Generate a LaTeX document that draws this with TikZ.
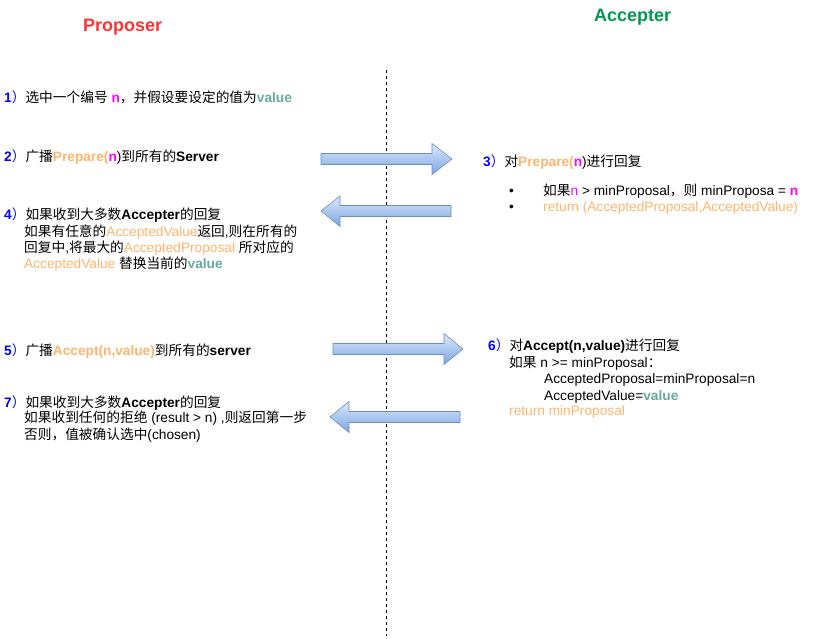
\documentclass[tikz,border=0pt]{standalone}
\usepackage{fontspec}
\setmainfont{Liberation Sans}
\newfontfamily\cjkf{Noto Sans CJK SC}
\definecolor{numblue}{HTML}{0000FF}
\definecolor{magc}{HTML}{FF00FF}
\definecolor{orgc}{HTML}{FFB570}
\definecolor{valc}{HTML}{67AB9F}
\definecolor{propc}{HTML}{FF3333}
\definecolor{accc}{HTML}{00994D}
\definecolor{arrtop}{HTML}{DAE8FC}
\definecolor{arrbot}{HTML}{7EA6E0}
\definecolor{arrdraw}{HTML}{6C8EBF}
\newcommand\zh[1]{{\cjkf #1}}
\newcommand\stepnum[1]{{\color{numblue}\textbf{#1}\zh{）}}}
\newcommand\nn{{\color{magc}\textbf{n}}}
\newcommand\org[1]{{\color{orgc}#1}}
\newcommand\val{{\color{valc}\textbf{value}}}
\tikzset{
  txt/.style={anchor=base west, inner sep=0pt, font=\fontsize{13.7}{16}\selectfont},
  title/.style={anchor=base west, inner sep=0pt, font=\fontsize{18}{20}\selectfont\bfseries},
  blockarrow/.style={top color=arrtop, bottom color=arrbot, draw=arrdraw, line width=0.6pt, line join=miter},
  lifeline/.style={draw=black, line width=0.7pt, dash pattern=on 3pt off 3pt}
}
\begin{document}
\begin{tikzpicture}[x=1pt,y=-1pt]
\useasboundingbox[fill=white] (0,0) rectangle (823,639);
% titles
\node[title, text=propc] (tprop) at (83,31.5) {Proposer};
\node[title, text=accc] (tacc) at (594,21.5) {Accepter};
% lifeline
\coordinate (ltop) at (386,70);
\coordinate (lbot) at (386,636);
\draw[lifeline] (ltop) -- (lbot);
% block arrows
\path[blockarrow] (321,153.5) -- (432,153.5) -- (432,143.5) -- (452,159) -- (432,174.5) -- (432,164.5) -- (321,164.5) -- cycle;
\path[blockarrow] (451,205.5) -- (340,205.5) -- (340,196) -- (321,211) -- (340,226.5) -- (340,216.5) -- (451,216.5) -- cycle;
\path[blockarrow] (333,343.5) -- (444,343.5) -- (444,333.5) -- (463,349) -- (444,364.5) -- (444,354.5) -- (333,354.5) -- cycle;
\path[blockarrow] (460,411.5) -- (349,411.5) -- (349,401.5) -- (330,417) -- (349,432.5) -- (349,422.5) -- (460,422.5) -- cycle;
% proposer side
\node[txt] (s1) at (4,103) {\stepnum{1}\zh{选中一个编号} \nn\zh{，并假设要设定的值为}\val};
\node[txt] (s2) at (4,162) {\stepnum{2}\zh{广播}\org{\textbf{Prepare(}}\nn)\zh{到所有的}\textbf{Server}};
\node[txt] (s4a) at (4,220) {\stepnum{4}\zh{如果收到大多数}\textbf{Accepter}\zh{的回复}};
\node[txt] (s4b) at (24,236.5) {\zh{如果有任意的}\org{AcceptedValue}\zh{返回},\zh{则在所有的}};
\node[txt] (s4c) at (24,252.5) {\zh{回复中},\zh{将最大的}\org{AcceptedProposal} \zh{所对应的}};
\node[txt] (s4d) at (24,268.5) {\org{AcceptedValue} \zh{替换当前的}\val};
\node[txt] (s5) at (4,356) {\stepnum{5}\zh{广播}\org{\textbf{Accept(n,value)}}\zh{到所有的}\textbf{server}};
\node[txt] (s7a) at (4,407) {\stepnum{7}\zh{如果收到大多数}\textbf{Accepter}\zh{的回复}};
\node[txt] (s7b) at (24,423) {\zh{如果收到任何的拒绝} (result > n) ,\zh{则返回第一步}};
\node[txt] (s7c) at (24,439) {\zh{否则，值被确认选中}(chosen)};
% accepter side
\node[txt] (s3a) at (483,167) {\stepnum{3}\zh{对}\org{\textbf{Prepare(}}\nn)\zh{进行回复}};
\node[txt] (b1) at (509,196) {\textbullet};
\node[txt] (s3b) at (543,196) {\zh{如果}{\color{magc}n} > minProposal\zh{，则} minProposa = \nn};
\node[txt] (b2) at (509,211.5) {\textbullet};
\node[txt] (s3c) at (543,211.5) {\org{return (AcceptedProposal,AcceptedValue)}};
\node[txt] (s6a) at (488,351) {\stepnum{6}\zh{对}\textbf{Accept(n,value)}\zh{进行回复}};
\node[txt] (s6b) at (509,367.5) {\zh{如果} n >= minProposal\zh{：}};
\node[txt] (s6c) at (544,384) {AcceptedProposal=minProposal=n};
\node[txt] (s6d) at (544,400) {AcceptedValue=\val};
\node[txt] (s6e) at (509,415.5) {\org{return minProposal}};
\end{tikzpicture}
\end{document}
